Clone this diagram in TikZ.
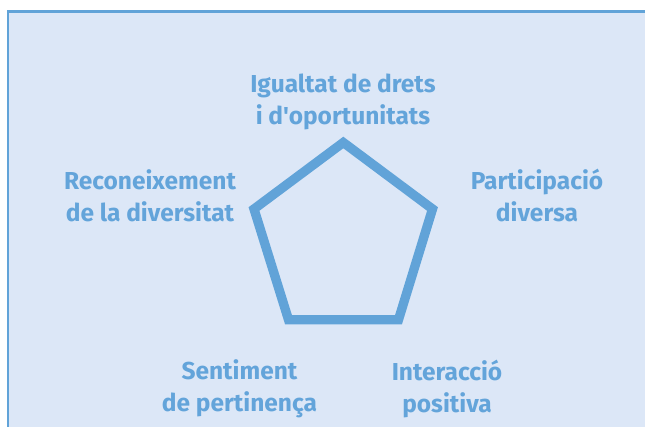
\documentclass[tikz,border=0pt]{standalone}
\usepackage{fontspec}
\newfontfamily\lblfont{Fira Sans}
\begin{document}
\begin{tikzpicture}[x=1pt,y=1pt,
  lbl/.style={text=txtColor,align=center,inner sep=0pt,outer sep=0pt,anchor=center,
    font=\lblfont\fontsize{24.5}{32}\selectfont\bfseries}]
\definecolor[named]{bgColor}{rgb}{0.863,0.906,0.969}
\definecolor[named]{lineColor}{rgb}{0.380,0.639,0.847}
\definecolor[named]{txtColor}{rgb}{0.388,0.643,0.855}
\path[use as bounding box,fill=white] (0,0) rectangle (645,427);
\begin{scope}
\path[clip] (0,0) rectangle (645,427);
\path[fill=bgColor] (8,-5) rectangle (650,415.7);
\path[draw=lineColor,line width=2.6pt] (8,-5) -- (8,415.7) -- (650,415.7);
\end{scope}
\coordinate (vT)  at (343.3,284.5);
\coordinate (vR)  at (432.5,218.0);
\coordinate (vBR) at (398.5,107.3);
\coordinate (vBL) at (288.5,107.3);
\coordinate (vL)  at (254.0,218.0);
\path[draw=lineColor,line width=9.3pt,line join=miter] (vT) -- (vR) -- (vBR) -- (vBL) -- (vL) -- cycle;
\node[lbl] (igualtat) at (343,325) {Igualtat de drets\\i d'oportunitats};
\node[lbl] (reconeix) at (150,231.5) {Reconeixement\\de la diversitat};
\node[lbl] (particip) at (537,231.5) {Participació\\diversa};
\node[lbl] (sentim) at (239.5,38) {Sentiment\\de pertinença};
\node[lbl] (interac) at (447,38) {Interacció\\positiva};
\end{tikzpicture}
\end{document}
